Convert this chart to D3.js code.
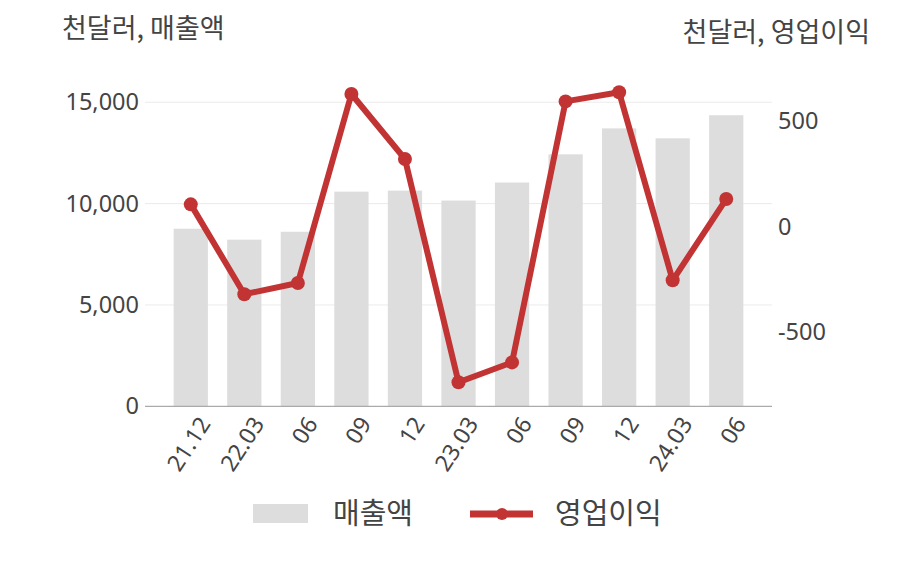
<!DOCTYPE html>
<html><head><meta charset="utf-8">
<script src="https://cdn.jsdelivr.net/npm/d3@7"></script>
<style>body{margin:0;background:#fff;}svg{display:block;font-family:"Noto Sans CJK KR","Noto Sans",sans-serif;}</style>
</head><body><svg id="c" width="908" height="580"></svg>
<script>
const categories = ["21.12","22.03","06","09","12","23.03","06","09","12","24.03","06"];
const sales = [8760, 8220, 8610, 10590, 10640, 10150, 11040, 12430, 13710, 13220, 14360];
const opIncome = [105, -321, -268, 628, 320, -738, -644, 593, 636, -255, 130];
const leftTicks = [0, 5000, 10000, 15000];
const rightTicks = [-500, 0, 500];
const leftTitle = "천달러, 매출액";
const rightTitle = "천달러, 영업이익";
const legendNames = ["매출액", "영업이익"];

const svg = d3.select("#c");
const textColor = "#444";
const barColor = "#dddddd";
const lineColor = "#c23434";

const x = d3.scaleBand().domain(d3.range(categories.length)).range([164, 753])
  .paddingInner(0.36).paddingOuter(0.18);
const yL = d3.scaleLinear().domain([0, 16000]).range([406.3, 406.3 - 16000 * 0.02027]);
const yR = d3.scaleLinear().domain([-800, 700]).range([226.5 + 800 * 0.211, 226.5 - 700 * 0.211]);

// gridlines
svg.append("g").selectAll("line").data(leftTicks.filter(d => d > 0)).join("line")
  .attr("x1", 145).attr("x2", 772).attr("y1", d => yL(d)).attr("y2", d => yL(d))
  .attr("stroke", "#ebebeb").attr("stroke-width", 1);

// left axis
const gl = svg.append("g").attr("transform", "translate(145,0)")
  .call(d3.axisLeft(yL).tickValues(leftTicks).tickSize(0).tickPadding(6).tickFormat(d3.format(",")));
gl.select(".domain").remove();
gl.selectAll("text").attr("fill", textColor).style("font-size", "23.5px").style("font-family", "'Noto Sans',sans-serif");

// right axis
const gr = svg.append("g").attr("transform", "translate(772,0)")
  .call(d3.axisRight(yR).tickValues(rightTicks).tickSize(0).tickPadding(6).tickFormat(d => d));
gr.select(".domain").remove();
gr.selectAll("text").attr("fill", textColor).style("font-size", "23.5px").style("font-family", "'Noto Sans',sans-serif");

// bars
svg.append("g").selectAll("rect").data(sales).join("rect")
  .attr("x", (d, i) => x(i)).attr("width", x.bandwidth())
  .attr("y", d => yL(d)).attr("height", d => yL(0) - yL(d)).attr("fill", barColor);

// baseline
svg.append("line").attr("x1", 145).attr("x2", 772).attr("y1", yL(0)).attr("y2", yL(0))
  .attr("stroke", "#aaaaaa").attr("stroke-width", 1.3);

// x axis labels
const gx = svg.append("g").attr("transform", `translate(0,${yL(0)})`)
  .call(d3.axisBottom(x).tickSize(0).tickFormat(i => categories[i]));
gx.select(".domain").remove();
gx.selectAll("text").attr("fill", textColor).style("font-size", "23px").style("font-family", "'Noto Sans',sans-serif")
  .attr("text-anchor", "end").attr("dy", "0.35em")
  .attr("transform", "translate(14,13) rotate(-57)").attr("y", 0).attr("x", 0);

// line
const cx = i => x(i) + x.bandwidth() / 2;
svg.append("path").datum(opIncome)
  .attr("d", d3.line().x((d, i) => cx(i)).y(d => yR(d)))
  .attr("fill", "none").attr("stroke", lineColor).attr("stroke-width", 6).attr("stroke-linejoin", "round");
svg.append("g").selectAll("circle").data(opIncome).join("circle")
  .attr("cx", (d, i) => cx(i)).attr("cy", d => yR(d)).attr("r", 7).attr("fill", lineColor);

// titles
svg.append("text").attr("x", 62).attr("y", 38).text(leftTitle).attr("fill", textColor).style("font-size", "27px");
svg.append("text").attr("x", 870).attr("y", 42).attr("text-anchor", "end").text(rightTitle).attr("fill", textColor).style("font-size", "27px");

// legend
svg.append("rect").attr("x", 253).attr("y", 504).attr("width", 55).attr("height", 19).attr("fill", barColor);
svg.append("text").attr("x", 333).attr("y", 524).text(legendNames[0]).attr("fill", textColor).style("font-size", "29px");
svg.append("line").attr("x1", 470).attr("x2", 533).attr("y1", 514).attr("y2", 514).attr("stroke", lineColor).attr("stroke-width", 7);
svg.append("circle").attr("cx", 502).attr("cy", 514).attr("r", 6).attr("fill", lineColor);
svg.append("text").attr("x", 555).attr("y", 524).text(legendNames[1]).attr("fill", textColor).style("font-size", "29px");
</script></body></html>
